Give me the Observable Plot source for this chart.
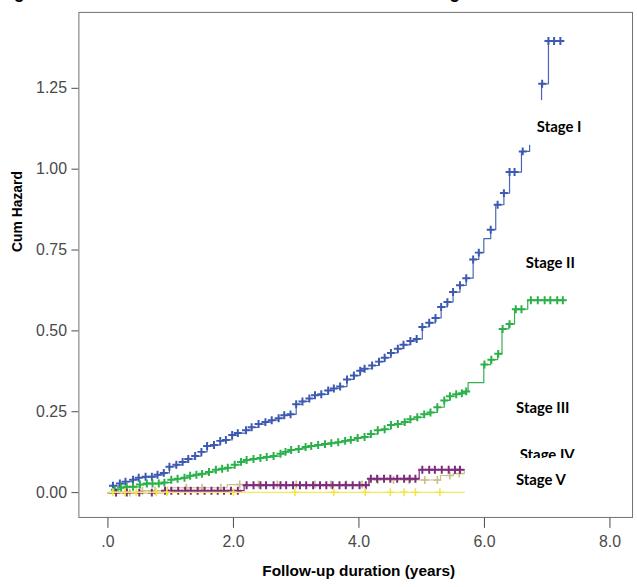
<!DOCTYPE html>
<html>
<head>
<meta charset="utf-8">
<script src="https://cdn.jsdelivr.net/npm/d3@7"></script>
<script src="https://cdn.jsdelivr.net/npm/@observablehq/plot@0.6"></script>
<style>
  html, body { margin: 0; padding: 0; background: #fff; overflow: hidden; width: 637px; height: 587px; }
  #wrap { position: relative; width: 637px; height: 587px; overflow: hidden; }
  #chart { position: absolute; left: 0; top: 0; }
  #title { position: absolute; left: -2px; top: -18px; line-height: 20px; white-space: nowrap;
           font: bold 17.7px "Liberation Sans", Arial, sans-serif; color: #000; }
</style>
</head>
<body>
<div id="wrap">
  <div id="chart"></div>
  <div id="title">Figure 2. Cumulative hazard function curves according to the CKD stratification</div>
</div>
<script>
// ---------------- data ----------------
const stageNames = ["Stage I", "Stage II", "Stage III", "Stage IV", "Stage V"];

// step points [years, cumulative hazard]
const stage1Steps = [[0,0],[0.08,0.021],[0.19,0.028],[0.28,0.034],[0.40,0.040],[0.49,0.046],[0.60,0.049],[0.79,0.055],[0.89,0.061],[0.98,0.080],[1.09,0.086],[1.19,0.095],[1.28,0.104],[1.39,0.113],[1.49,0.126],[1.58,0.144],[1.69,0.147],[1.79,0.160],[1.88,0.163],[1.98,0.178],[2.07,0.184],[2.20,0.193],[2.29,0.202],[2.40,0.212],[2.51,0.218],[2.61,0.224],[2.72,0.230],[2.81,0.239],[2.91,0.242],[3.00,0.273],[3.10,0.282],[3.21,0.291],[3.30,0.301],[3.40,0.304],[3.51,0.316],[3.60,0.322],[3.70,0.328],[3.81,0.350],[3.92,0.362],[4.02,0.377],[4.09,0.383],[4.21,0.393],[4.32,0.405],[4.41,0.417],[4.51,0.432],[4.62,0.445],[4.71,0.457],[4.82,0.469],[4.92,0.475],[5.01,0.512],[5.12,0.525],[5.22,0.540],[5.31,0.574],[5.41,0.589],[5.50,0.620],[5.61,0.641],[5.71,0.663],[5.82,0.721],[5.91,0.742],[5.99,0.785],[6.10,0.813],[6.18,0.890],[6.31,0.926],[6.40,0.991],[6.59,1.055],[6.72,1.199],[6.91,1.264],[7.02,1.396],[7.21,1.396]];
const stage1Censor = [0.08,0.19,0.28,0.40,0.49,0.60,0.70,0.79,0.89,0.98,1.09,1.19,1.28,1.39,1.49,1.58,1.69,1.79,1.88,1.98,2.07,2.20,2.29,2.40,2.51,2.61,2.72,2.81,2.91,3.00,3.10,3.21,3.30,3.40,3.51,3.60,3.70,3.81,3.92,4.02,4.09,4.21,4.32,4.41,4.51,4.62,4.71,4.82,4.92,5.01,5.12,5.22,5.31,5.41,5.50,5.61,5.71,5.82,5.91,6.10,6.21,6.31,6.40,6.48,6.61,6.92,7.02,7.11,7.21];

const stage2Steps = [[0,0],[0.11,0.009],[0.21,0.015],[0.30,0.018],[0.51,0.025],[0.62,0.028],[0.90,0.031],[1.01,0.040],[1.11,0.043],[1.22,0.046],[1.31,0.052],[1.41,0.055],[1.50,0.058],[1.61,0.064],[1.72,0.071],[1.82,0.074],[1.91,0.077],[2.02,0.086],[2.12,0.095],[2.21,0.101],[2.32,0.104],[2.43,0.107],[2.53,0.110],[2.64,0.113],[2.75,0.120],[2.83,0.126],[2.92,0.132],[3.04,0.135],[3.15,0.141],[3.24,0.144],[3.35,0.147],[3.46,0.150],[3.56,0.153],[3.67,0.156],[3.78,0.160],[3.87,0.163],[3.98,0.169],[4.09,0.172],[4.19,0.181],[4.30,0.193],[4.41,0.196],[4.51,0.209],[4.62,0.212],[4.73,0.218],[4.82,0.227],[4.93,0.233],[5.04,0.242],[5.14,0.248],[5.25,0.264],[5.36,0.285],[5.45,0.298],[5.55,0.304],[5.64,0.307],[5.71,0.313],[5.74,0.340],[5.99,0.396],[6.10,0.411],[6.21,0.429],[6.28,0.506],[6.39,0.521],[6.48,0.567],[6.69,0.595],[7.26,0.595]];
const stage2Censor = [0.11,0.21,0.30,0.40,0.51,0.62,0.71,0.81,0.90,1.01,1.11,1.22,1.31,1.41,1.50,1.61,1.72,1.82,1.91,2.02,2.12,2.21,2.32,2.43,2.53,2.64,2.75,2.83,2.92,3.04,3.15,3.24,3.35,3.46,3.56,3.67,3.78,3.87,3.98,4.09,4.19,4.30,4.41,4.51,4.62,4.73,4.82,4.93,5.04,5.14,5.25,5.36,5.45,5.55,5.64,5.71,6.00,6.11,6.22,6.29,6.40,6.50,6.59,6.74,6.85,6.96,7.05,7.16,7.25];

const stage3Steps = [[0,0],[0.88,0.006],[2.17,0.023],[4.16,0.043],[4.96,0.071],[5.68,0.071]];
const stage3Censor = [0.13,0.30,0.50,0.70,0.91,1.01,1.12,1.23,1.32,1.43,1.54,1.65,1.75,1.85,1.96,2.07,2.21,2.32,2.43,2.52,2.64,2.75,2.84,2.95,3.06,3.16,3.27,3.38,3.48,3.58,3.69,3.79,3.90,4.01,4.11,4.19,4.29,4.40,4.50,4.61,4.72,4.81,4.90,5.01,5.12,5.21,5.32,5.43,5.53,5.61];

const stage4Steps = [[0,0],[0.50,0.006],[1.00,0.015],[1.90,0.025],[4.16,0.039],[5.30,0.053],[5.50,0.059],[5.68,0.070]];
const stage4Censor = [0.13,0.35,0.55,0.75,0.95,1.25,1.50,1.80,2.10,2.40,2.70,3.00,3.30,3.55,3.80,4.05,4.30,4.55,4.80,5.05,5.25,5.45,5.60];

const stage5Steps = [[0,0.001],[5.68,0.001]];
const stage5Censor = [0.08,0.27,0.45,0.77,0.94,2.00,2.98,3.60,4.10,4.50,4.72,4.90,5.29];

const xTicks = [0, 2, 4, 6, 8];
const yTicks = [0, 0.25, 0.5, 0.75, 1.0, 1.25];

// label anchors [years, cumulative hazard]
const labelT = [7.19, 7.05, 6.93, 7.00, 6.90];
const labelH = [1.129, 0.709, 0.262, 0.115, 0.038];

// ---------------- styles ----------------
const lineColors = ["#4a66ba", "#34b150", "#7e2d7f", "#cbc28a", "#f4ea5e"];
const markColors = ["#3d59b2", "#2bb149", "#7b2a7e", "#c9bf85", "#f2e64c"];
const boxTopPad = [27, 22, 22, 22, 22];

// ---------------- build ----------------
const stepsAll = [stage1Steps, stage2Steps, stage3Steps, stage4Steps, stage5Steps];
const censorAll = [stage1Censor, stage2Censor, stage3Censor, stage4Censor, stage5Censor];

function stepValue(steps, t) {
  let v = steps[0][1];
  for (const [st, sv] of steps) { if (st <= t + 1e-9) v = sv; else break; }
  return v;
}

const plusSymbol = {
  draw(ctx, size) {
    const r = Math.sqrt(size / Math.PI);
    ctx.moveTo(-r, 0); ctx.lineTo(r, 0);
    ctx.moveTo(0, -r); ctx.lineTo(0, r);
  }
};

const drawOrder = [0, 1, 3, 2, 4];
const curveMarks = [];
for (const i of drawOrder) {
  const steps = stepsAll[i];
  curveMarks.push(Plot.line(steps, {x: d => d[0], y: d => d[1], curve: "step-after",
    stroke: lineColors[i], strokeWidth: 1.2}));
  const cens = censorAll[i].map(t => ({t, h: stepValue(steps, t)}));
  curveMarks.push(Plot.dot(cens, {x: "t", y: "h", symbol: plusSymbol, r: 4,
    stroke: markColors[i], strokeWidth: i >= 3 ? 1.6 : 2, fill: "none"}));
}

const labels = stageNames.map((name, i) => ({name, t: labelT[i], h: labelH[i]}));
const labelMarks = [];
labels.forEach((l, i) => {
  labelMarks.push(Plot.rect([l], {x1: "t", x2: "t", y1: "h", y2: "h", fill: "white",
    insetLeft: -38, insetRight: -38, insetTop: -boxTopPad[i], insetBottom: -18}));
  labelMarks.push(Plot.text([l], {x: "t", y: "h", text: "name", fontFamily: "Lato, 'Open Sans', sans-serif",
    fontWeight: "bold", fontSize: 15, fill: "#000"}));
});

const chart = Plot.plot({
  width: 642,
  height: 587,
  marginLeft: 79,
  marginRight: 5,
  marginTop: 12,
  marginBottom: 66,
  style: {background: "white", fontFamily: "'Liberation Sans', Arial, sans-serif", fontSize: "16px", color: "#4a4a4a"},
  x: {domain: [-0.463, 8.36], ticks: xTicks, tickFormat: d => d === 0 ? ".0" : d.toFixed(1),
      tickSize: 11, tickPadding: 7, label: null},
  y: {domain: [-0.0767, 1.4847], ticks: yTicks, tickFormat: d => d.toFixed(2),
      tickSize: 7, tickPadding: 5, label: null},
  marks: [
    Plot.frame({stroke: "#707070"}),
    ...curveMarks,
    ...labelMarks,
    Plot.text(["Cum Hazard"], {frameAnchor: "left", dx: -62, dy: -13, rotate: -90, text: d => d,
      fontWeight: "bold", fontSize: 14, fill: "#000"}),
    Plot.text(["Follow-up duration (years)"], {frameAnchor: "bottom", dx: 3, dy: 59, text: d => d,
      fontWeight: "bold", fontSize: 15.5, fill: "#000"})
  ]
});
document.getElementById("chart").appendChild(chart);
</script>
</body>
</html>
